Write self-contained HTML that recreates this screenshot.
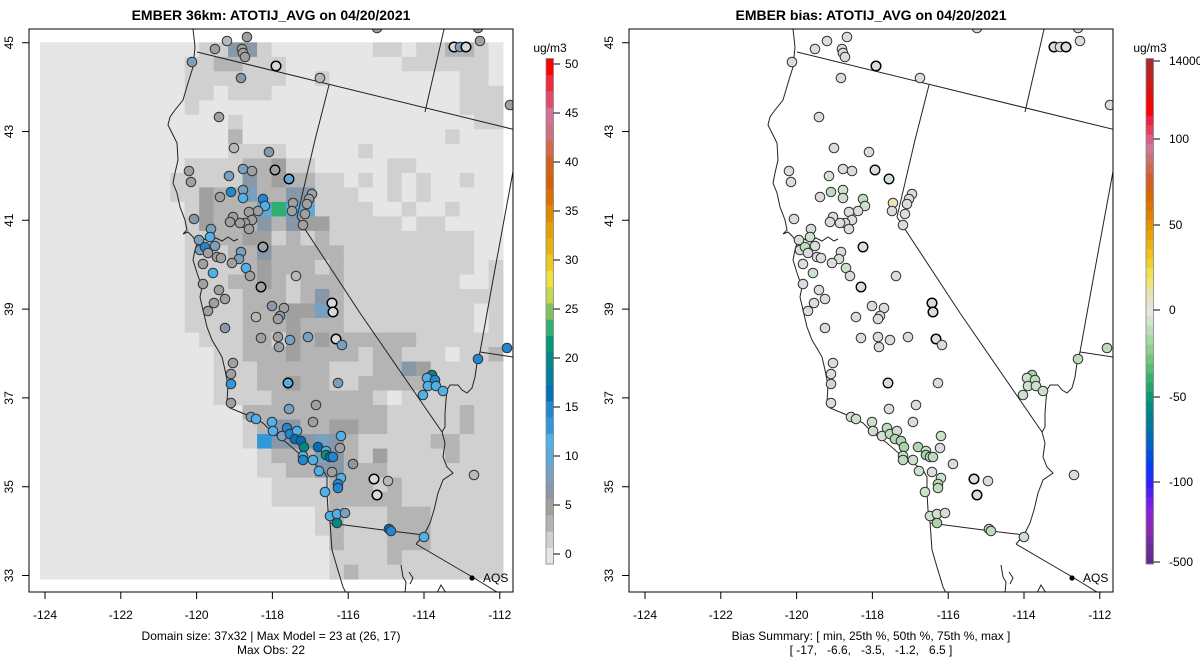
<!DOCTYPE html>
<html><head><meta charset="utf-8">
<style>
html,body{margin:0;padding:0;background:#fff;}
svg{display:block;font-family:"Liberation Sans",Arial,sans-serif;}
</style></head>
<body>
<svg id="s" width="1200" height="672" viewBox="0 0 1200 672" xmlns="http://www.w3.org/2000/svg">
<defs>
<clipPath id="cl"><rect x="29" y="29" width="484" height="563"/></clipPath>
<clipPath id="cr"><rect x="629" y="29" width="484" height="563"/></clipPath>
<g id="map" fill="none" stroke="#222" stroke-width="1">
<path d="M193,29 L195,47 L193,67 L188,83 L183,100 L175,110 L170,117 L168,125 L172,133 L177,143 L178,160 L175,173 L173,183 L177,193 L180,207 L185,220 L187,230 L183,234 L188,232 L193,237 L197,243 L195,250 L193,260 L197,273 L202,287 L200,297 L203,310 L207,327 L212,340 L218,350 L222,357 L225,370 L228,385 L227,402 L230,408 L247,415 L263,423 L273,433 L287,443 L303,457 L313,463 L323,470 L327,477 L327,493 L328,510 L330,522 L332,550 L337,567 L343,587 L346,593"/>
<path d="M197,243 L204,239 L210,242 L216,238 L222,241 L228,237 L234,241 L238,239 M200,249 L206,246 L210,249"/>
<path d="M401,565 L403,577 L406,582 L405,593 M409,572 L413,578 L410,584 M437,593 L441,585 L446,593"/>
<path d="M197,52 L520,131"/>
<path d="M445,25 L425,112"/>
<path d="M329,85 L315,140 L297,217 L360,313 L442,432"/>
<path d="M442,432 L445,427 L445,413 L446,400 L447,390 L450,385 L458,385 L462,390 L467,393 L472,388 L475,377 L477,363 L480,352 L493,280 L514,166"/>
<path d="M480,352 L520,358"/>
<path d="M442,432 L445,443 L443,457 L447,467 L453,473 L443,480 L438,493 L434,510 L430,523 L424,535 L416,544"/>
<path d="M330,523 L391,531 L424,535"/>
<path d="M416,544 L474,578 L505,597"/>
</g>
</defs>

<!-- LEFT PANEL -->
<g clip-path="url(#cl)">
<g id="gridL"></g>
<use href="#map"/>
<g id="ptsL"></g>
<circle cx="472" cy="578" r="2.6" fill="#000"/>
</g>
<text x="483" y="582" font-size="12">AQS</text>
<rect x="29" y="29" width="484" height="563" fill="none" stroke="#000" stroke-width="1"/>

<!-- RIGHT PANEL -->
<g clip-path="url(#cr)">
<use href="#map" transform="translate(600,0)"/>
<g id="ptsR"></g>
<circle cx="1072" cy="578" r="2.6" fill="#000"/>
</g>
<text x="1083" y="582" font-size="12">AQS</text>
<rect x="629" y="29" width="484" height="563" fill="none" stroke="#000" stroke-width="1"/>

<!-- Titles -->
<text x="271" y="20" font-size="14" font-weight="bold" text-anchor="middle">EMBER 36km: ATOTIJ_AVG on 04/20/2021</text>
<text x="871" y="20" font-size="14" font-weight="bold" text-anchor="middle">EMBER bias: ATOTIJ_AVG on 04/20/2021</text>

<!-- Axis ticks -->
<g stroke="#000" stroke-width="1">
<path d="M22,42.7H29 M22,131.5H29 M22,220.3H29 M22,309.1H29 M22,397.9H29 M22,486.7H29 M22,575.5H29"/>
<path d="M45,592V599 M120.8,592V599 M196.6,592V599 M272.4,592V599 M348.2,592V599 M424,592V599 M499.8,592V599"/>
<path d="M622,42.7H629 M622,131.5H629 M622,220.3H629 M622,309.1H629 M622,397.9H629 M622,486.7H629 M622,575.5H629"/>
<path d="M645,592V599 M720.8,592V599 M796.6,592V599 M872.4,592V599 M948.2,592V599 M1024,592V599 M1099.8,592V599"/>
</g>

<g font-size="12" text-anchor="middle">
<text transform="translate(13,42.7) rotate(-90)">45</text>
<text transform="translate(13,131.5) rotate(-90)">43</text>
<text transform="translate(13,220.3) rotate(-90)">41</text>
<text transform="translate(13,309.1) rotate(-90)">39</text>
<text transform="translate(13,397.9) rotate(-90)">37</text>
<text transform="translate(13,486.7) rotate(-90)">35</text>
<text transform="translate(13,575.5) rotate(-90)">33</text>
<text transform="translate(613,42.7) rotate(-90)">45</text>
<text transform="translate(613,131.5) rotate(-90)">43</text>
<text transform="translate(613,220.3) rotate(-90)">41</text>
<text transform="translate(613,309.1) rotate(-90)">39</text>
<text transform="translate(613,397.9) rotate(-90)">37</text>
<text transform="translate(613,486.7) rotate(-90)">35</text>
<text transform="translate(613,575.5) rotate(-90)">33</text>

<text x="45" y="619">-124</text>
<text x="120.8" y="619">-122</text>
<text x="196.6" y="619">-120</text>
<text x="272.4" y="619">-118</text>
<text x="348.2" y="619">-116</text>
<text x="424" y="619">-114</text>
<text x="499.8" y="619">-112</text>
<text x="645" y="619">-124</text>
<text x="720.8" y="619">-122</text>
<text x="796.6" y="619">-120</text>
<text x="872.4" y="619">-118</text>
<text x="948.2" y="619">-116</text>
<text x="1024" y="619">-114</text>
<text x="1099.8" y="619">-112</text>

<text x="271" y="640">Domain size: 37x32 | Max Model = 23 at (26, 17)</text>
<text x="271" y="654">Max Obs: 22</text>
<text x="871" y="640">Bias Summary: [ min, 25th %, 50th %, 75th %, max ]</text>
<text x="871" y="654" style="white-space:pre" xml:space="preserve">[ -17,   -6.6,   -3.5,   -1.2,   6.5 ]</text>

<text x="550" y="52">ug/m3</text>
<text x="1150" y="52">ug/m3</text>
</g>

<!-- Colorbars -->
<g id="cbL"></g>
<g id="cbR"></g>
<rect x="546" y="58.5" width="7.5" height="505.5" fill="none" stroke="#888" stroke-width="0.8"/>
<rect x="1146" y="58.5" width="7.5" height="505.5" fill="none" stroke="#888" stroke-width="0.8"/>
<g stroke="#000" stroke-width="1">
<path d="M553.5,554H560 M553.5,505H560 M553.5,456H560 M553.5,407H560 M553.5,358H560 M553.5,309H560 M553.5,260H560 M553.5,211H560 M553.5,162H560 M553.5,113H560 M553.5,64H560"/>
<path d="M1153.5,61H1160 M1153.5,139H1160 M1153.5,225H1160 M1153.5,310H1160 M1153.5,397H1160 M1153.5,482H1160 M1153.5,562H1160"/>
</g>
<g font-size="12">
<text x="565" y="558">0</text>
<text x="565" y="509">5</text>
<text x="565" y="460">10</text>
<text x="565" y="411">15</text>
<text x="565" y="362">20</text>
<text x="565" y="313">25</text>
<text x="565" y="264">30</text>
<text x="565" y="215">35</text>
<text x="565" y="166">40</text>
<text x="565" y="117">45</text>
<text x="565" y="68">50</text>
<text x="1169" y="65">14000</text>
<text x="1169" y="143">100</text>
<text x="1169" y="229">50</text>
<text x="1169" y="314">0</text>
<text x="1169" y="401">-50</text>
<text x="1169" y="486">-100</text>
<text x="1169" y="566">-500</text>
</g>
</svg>

<script>
(function(){
var NS="http://www.w3.org/2000/svg";
function el(tag,attrs,parent){var e=document.createElementNS(NS,tag);for(var k in attrs)e.setAttribute(k,attrs[k]);parent.appendChild(e);return e;}
var rows=[
"0000000000"+"0114410"+"000000"+"110112210",
"0000000000"+"1122111"+"000000"+"001111110",
"0000000000"+"1111111"+"001000"+"000000110",
"0000000000"+"1101110"+"000000"+"000000111",
"0000000000"+"1000000"+"000000"+"000000111",
"0000000000"+"0001000"+"000000"+"000000011",
"0000000000"+"0002000"+"000000"+"000001000",
"0000000000"+"0001111"+"000001"+"000000000",
"0000000000"+"1111223"+"110000"+"011000000",
"0000000001"+"1111423"+"221101"+"010100100",
"0000000001"+"1322522"+"441110"+"010100000",
"0000000000"+"132226g"+"661111"+"001001000",
"0000000000"+"1322242"+"433111"+"110110000",
"0000000000"+"1122331"+"212111"+"111111100",
"0000000000"+"1112242"+"222211"+"111111100",
"0000000000"+"1111232"+"221211"+"111111101",
"0000000000"+"1112232"+"122211"+"111111001",
"0000000000"+"1111222"+"124211"+"111111111",
"0000000000"+"1111222"+"335211"+"111111101",
"0000000000"+"1111222"+"322211"+"111111101",
"0000000000"+"0111221"+"323222"+"222111111",
"0000000000"+"0011222"+"322221"+"221110112",
"0000000000"+"0011122"+"222111"+"224311111",
"0000000000"+"0011122"+"322112"+"222211111",
"0000000000"+"0011112"+"222222"+"101111111",
"0000000000"+"0000222"+"222222"+"211111211",
"0000000000"+"0000124"+"422332"+"211111211",
"0000000000"+"0000174"+"445421"+"111122111",
"0000000000"+"0000012"+"225421"+"311112111",
"0000000000"+"0000011"+"224422"+"211111111",
"0000000000"+"0000001"+"111222"+"121111111",
"0000000000"+"0000001"+"111222"+"221111111",
"0000000000"+"0000000"+"001211"+"122211111",
"0000000000"+"0000000"+"001211"+"122211111",
"0000000000"+"0000000"+"000211"+"122211111",
"0000000000"+"0000000"+"000111"+"121111111",
"0000000000"+"0000000"+"000121"+"111111111"];
var cc={"0":"#e6e6e6","1":"#d0d0d0","2":"#b4b4b4","3":"#a0a0a0","4":"#8898a8","5":"#78a0c0","6":"#60a8d8","7":"#3098d8","g":"#30b070"};
var gL=document.getElementById("gridL");
var x0=40,y0=42.3,w=14.47,h=14.51;
for(var r=0;r<rows.length;r++){
  var s=rows[r];var c=0;
  while(c<32){var ch=s.charAt(c)||"0";var c2=c;while(c2<32&&(s.charAt(c2)||"0")==ch)c2++;
    el("rect",{x:(x0+c*w).toFixed(2),y:(y0+r*h).toFixed(2),width:((c2-c)*w+0.4).toFixed(2),height:(h+0.4).toFixed(2),fill:cc[ch]},gL);
    c=c2;}
}
var cbl=["#e6e6e6","#d0d0d0","#b4b4b4","#a0a0a0","#8898a8","#78a0c0","#60a8d8","#50b0e8","#3098d8","#2088d0","#0070b8","#0080a0","#008888","#009878","#30b070","#80c060","#c4d850","#f0e040","#ecc820","#e8b010","#e4a000","#e08800","#dc7000","#d86000","#d4601f","#d4684a","#cf7080","#d4709a","#e4486a","#ef2a3a","#ff0000"];
var gcl=document.getElementById("cbL");var top=58.5,H=505.5;
var bh=H/cbl.length;
for(var i=0;i<cbl.length;i++){el("rect",{x:546,y:(top+H-(i+1)*bh).toFixed(2),width:7.5,height:(bh+0.3).toFixed(2),fill:cbl[i]},gcl);}
var cbr=["#a52a2a","#b82222","#cc1a1a","#e01010","#f00808","#ff0000","#f02040","#e4405e","#d86088","#cc7898","#cc7070","#d06850","#d45e30","#d86010","#d86800","#dc7400","#e08200","#e49200","#e8a200","#ecb010","#f0c020","#f0d030","#f0e050","#ece478","#e8e4a4","#e4e4cc","#e6e6e6","#d2e4d2","#bcdebc","#a6d8a6","#8ed08e","#74c67e","#58bc76","#3cb070","#20a470","#089874","#008c80","#00808c","#00789c","#006cb0","#0060c8","#0050dc","#0040f0","#1830ff","#3020f8","#5020f0","#7020e8","#8a20d8","#9024c8","#8828b4","#782ca4","#6c2c98","#602c8c"];
var gcr=document.getElementById("cbR");var bh2=H/cbr.length;
for(var j=0;j<cbr.length;j++){el("rect",{x:1146,y:(top+j*bh2).toFixed(2),width:7.5,height:(bh2+0.3).toFixed(2),fill:cbr[j]},gcr);}
var P=[[247,37,'g'],[227,41,'l'],[215,49,'g'],[242,49,'g'],[243,53,'g'],[245,57,'g'],[192,62,'lb'],[276,66,'h'],[241,78,'bg'],[219,117,'g'],[234,148,'l'],[269,152,'bg'],
[377,28,'g'],[478,28,'bg'],[480,41,'g'],[454,47,'h'],[460,47,'lb'],[466,47,'h'],[320,78,'l'],[510,105,'g'],
[189,171,'g'],[191,182,'g'],[229,176,'lb'],[243,169,'lb'],[252,171,'g'],[275,170,'gk'],[289,179,'lbk'],
[231,192,'db'],[243,190,'lb'],[243,198,'b'],[220,197,'g'],[263,199,'db'],[265,206,'b'],[258,211,'g'],[293,203,'gy'],[292,211,'g'],[312,194,'g'],[309,199,'g'],[307,204,'g'],[305,214,'g'],[303,225,'g'],
[249,212,'g'],[252,220,'g'],[245,223,'g'],[240,223,'g'],[233,217,'g'],[230,222,'g'],[249,229,'g'],
[194,219,'bg'],[211,229,'lb'],[210,237,'b'],[199,240,'lb'],[200,250,'lb'],[205,247,'db'],[208,253,'g'],[215,246,'lb'],[217,257,'g'],[221,258,'g'],[241,252,'lb'],[239,259,'lb'],[232,263,'g'],[246,268,'b'],[203,264,'g'],[213,273,'b'],[250,276,'g'],[263,247,'gk'],[296,276,'l'],[203,284,'g'],[219,290,'g'],[225,299,'g'],[261,287,'gk'],[214,303,'g'],[208,311,'g'],[332,303,'h'],[333,312,'h'],[272,306,'bg'],[284,308,'g'],[280,316,'lb'],[278,319,'g'],[256,317,'l'],[225,328,'bg'],
[261,338,'g'],[278,337,'g'],[279,347,'g'],[290,340,'lb'],[308,337,'lb'],[336,339,'h'],[342,345,'lb'],
[233,363,'g'],[231,374,'g'],[231,384,'b2'],[288,383,'lbk'],[338,383,'lb'],[231,403,'g'],[289,409,'lb'],[316,405,'g'],
[251,417,'lb'],[256,419,'b'],[272,422,'b'],[313,422,'g'],[273,431,'b'],[282,436,'lb'],[287,428,'db'],[290,434,'db'],[297,431,'b'],[295,439,'dd'],[301,441,'dd'],[304,447,'t'],[303,456,'b'],[303,460,'db'],[313,460,'b'],[318,447,'dd'],[326,451,'b'],[326,455,'t2'],[330,457,'dd'],[333,457,'db'],[341,436,'b'],[340,448,'g'],[319,471,'b'],[332,472,'g'],[341,478,'b'],[338,484,'db'],[338,488,'db'],[353,464,'bg'],[374,479,'h'],[388,481,'l'],[325,492,'b'],[377,495,'h'],[330,516,'b'],[337,514,'b'],[345,513,'lb'],[337,523,'t'],[389,529,'dd'],[391,531,'db'],[424,537,'b'],
[432,375,'t'],[427,378,'b'],[435,380,'db'],[428,386,'b'],[436,386,'b'],[443,391,'b'],[423,395,'b'],[478,359,'db'],[507,348,'db'],[474,475,'l']];
var FL={g:"#a0a0a0",l:"#b8b8b8",gk:"#a0a0a0",gy:"#a0a0a0",h:"#d8d8d8",bg:"#8898a8",lb:"#78a0c0",lbk:"#60a8d8",b:"#50b0e8",b2:"#3098d8",db:"#2088d0",dd:"#0070b8",t:"#008888",t2:"#009878"};
var FR={g:"#dcdcdc",l:"#dcdcdc",gk:"#dcdcdc",gy:"#e8e4b0",h:"#dcdcdc",bg:"#dadcda",lb:"#d6dfd6",lbk:"#d2e0d2",b:"#cce0cc",b2:"#c4dec4",db:"#bcdcbc",dd:"#b0d8b0",t:"#a8d4a8",t2:"#a8d4a8"};
var pL=document.getElementById("ptsL"),pR=document.getElementById("ptsR");
for(var k=0;k<P.length;k++){
  var p=P[k],t=p[2];
  var thick=(t=="h"||t=="gk"||t=="lbk");
  var sw=t=="h"?1.5:(thick?1.3:1);
  var st=thick?"#000":"#333";
  el("circle",{cx:p[0],cy:p[1],r:4.8,fill:FL[t],stroke:st,"stroke-width":sw},pL);
  el("circle",{cx:p[0]+600,cy:p[1],r:4.8,fill:FR[t],stroke:st,"stroke-width":sw},pR);
}
})();
</script>
</body></html>
